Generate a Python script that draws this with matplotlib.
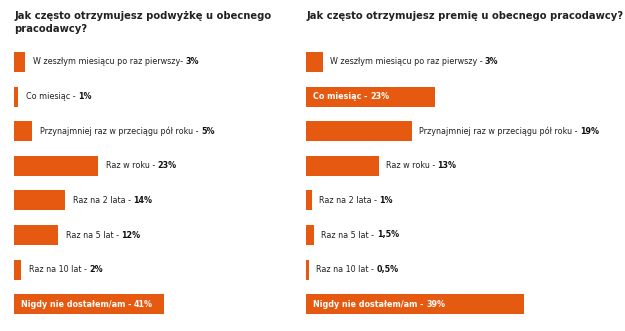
import matplotlib
matplotlib.use("Agg")
import matplotlib.pyplot as plt

# podwyżka (raise)
raise_labels = ["W zeszłym miesiącu po raz pierwszy- ", "Co miesiąc - ",
                "Przynajmniej raz w przeciągu pół roku - ", "Raz w roku - ",
                "Raz na 2 lata - ", "Raz na 5 lat - ", "Raz na 10 lat - ",
                "Nigdy nie dostałem/am - "]
raise_values = [3, 1, 5, 23, 14, 12, 2, 41]
raise_text = ["3%", "1%", "5%", "23%", "14%", "12%", "2%", "41%"]

# premia (bonus)
bonus_labels = ["W zeszłym miesiącu po raz pierwszy - ", "Co miesiąc - ",
                "Przynajmniej raz w przeciągu pół roku - ", "Raz w roku - ",
                "Raz na 2 lata - ", "Raz na 5 lat - ", "Raz na 10 lat - ",
                "Nigdy nie dostałem/am - "]
bonus_values = [3, 23, 19, 13, 1, 1.5, 0.5, 39]
bonus_text = ["3%", "23%", "19%", "13%", "1%", "1,5%", "0,5%", "39%"]

titles = ["Jak często otrzymujesz podwyżkę u obecnego\npracodawcy?",
          "Jak często otrzymujesz premię u obecnego pracodawcy?"]

ORANGE = "#E55A10"
W, H = 625, 331
fig = plt.figure(figsize=(W / 100, H / 100), dpi=100)
plt.rcParams["font.family"] = "DejaVu Sans"

step = 34.6
top = 62 - step / 2
FS = 5.8

def panel(x0, width, px_per_pct, gap_px, labels, values, texts, inside, title):
    ax = fig.add_axes([x0 / W, (H - top - 8 * step) / H, width / W, 8 * step / H])
    ax.set_xlim(0, width / px_per_pct)
    ax.set_ylim(7.5, -0.5)
    ax.axis("off")
    pos = list(range(len(values)))
    ax.barh(pos, values, height=0.58, color=ORANGE)
    for i, (lab, v, t) in enumerate(zip(labels, values, texts)):
        if i in inside:
            # label sits inside the bar, white bold
            a = ax.text(7 / px_per_pct, i, lab, color="white", fontsize=FS,
                        fontweight="bold", va="center", ha="left")
            ax.annotate(t, xy=(1, 0.5), xycoords=a, va="center", ha="left",
                        color="white", fontsize=FS, fontweight="bold")
        else:
            a = ax.text(v + gap_px / px_per_pct, i, lab, color="#222222",
                        fontsize=FS, va="center", ha="left")
            ax.annotate(t, xy=(1, 0.5), xycoords=a, va="center", ha="left",
                        color="#111111", fontsize=FS, fontweight="bold")
    fig.text(x0 / W, 1 - 11 / H, title, fontsize=7.2, fontweight="bold",
             color="#222222", va="top", ha="left", linespacing=1.35)
    return ax

panel(14, 280, 3.65, 8, raise_labels, raise_values, raise_text, [7], titles[0])
panel(306, 312, 5.6, 7, bonus_labels, bonus_values, bonus_text, [1, 7], titles[1])

fig.savefig("out.png", dpi=100, facecolor="white")
